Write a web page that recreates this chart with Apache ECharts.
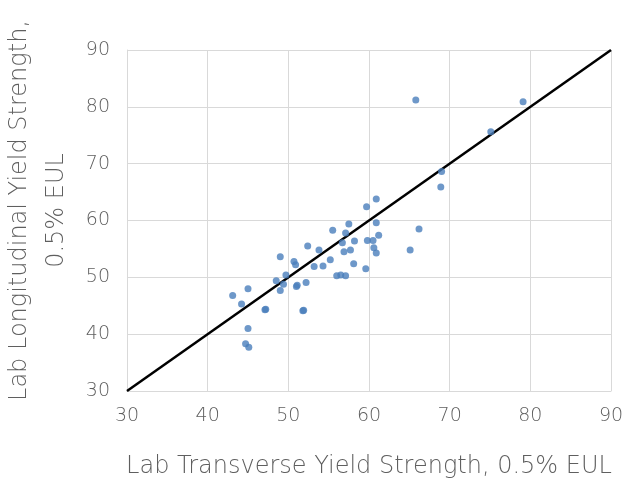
<!DOCTYPE html>
<html>
<head>
<meta charset="utf-8">
<script src="https://cdn.jsdelivr.net/npm/echarts@6/dist/echarts.min.js"></script>
<style>
    html, body { margin: 0; padding: 0; background: #fff; }
    #chart { width: 630px; height: 485px; }
</style>
</head>
<body>
<div id="chart"></div>
<script>
// 横向屈服强度 (x) 与 纵向屈服强度 (y)
var transverse = [
    43.1, 45.0, 44.2, 45.0, 44.7, 45.1, 47.1, 47.2, 48.5, 49.0, 49.0, 49.4, 49.7,
    50.7, 50.9, 51.0, 51.1, 51.8, 51.9, 52.2, 52.4, 53.2, 53.8, 54.3, 55.2, 55.5,
    56.0, 56.5, 57.1, 56.7, 56.9, 57.1, 57.5, 57.7, 58.2, 58.1, 59.6, 59.7, 59.8,
    60.5, 60.6, 60.9, 60.9, 60.9, 61.2, 65.1, 66.2, 65.8, 79.1, 75.1, 69.0, 68.9
];
var longitudinal = [
    46.8, 48.0, 45.3, 41.0, 38.3, 37.7, 44.3, 44.4, 49.4, 53.6, 47.7, 48.8, 50.4,
    52.8, 52.2, 48.4, 48.6, 44.1, 44.2, 49.1, 55.5, 51.9, 54.8, 52.0, 53.1, 58.3,
    50.3, 50.4, 50.3, 56.1, 54.5, 57.8, 59.4, 54.8, 56.4, 52.4, 51.5, 62.4, 56.5,
    56.5, 55.2, 63.8, 59.6, 54.3, 57.4, 54.8, 58.5, 81.2, 80.9, 75.6, 68.6, 65.9
];
// 1:1 参考线
var refLine = [[30, 30], [90, 90]];
var axisMin = 30, axisMax = 90, axisStep = 10;

var points = transverse.map(function (v, i) {
    return [v, longitudinal[i]];
});

var myChart = echarts.init(document.getElementById('chart'));
var fontFamily = '"DejaVu Sans", sans-serif';
var gray = '#5f5f5f';
var myOption = {
    animation: false,
    grid: { left: 127, right: 19, top: 50, bottom: 94, outerBoundsMode: 'none', containLabel: false },
    xAxis: {
        type: 'value',
        min: axisMin, max: axisMax, interval: axisStep,
        axisLine: { show: true, lineStyle: { color: '#d9d9d9' } },
        axisTick: { show: false },
        splitLine: { lineStyle: { color: '#d9d9d9', width: 1 } },
        axisLabel: { color: gray, fontSize: 19, fontFamily: fontFamily, fontWeight: 200, margin: 16 },
        name: 'Lab Transverse Yield Strength, 0.5% EUL',
        nameLocation: 'middle',
        nameGap: 64,
        nameTextStyle: { color: gray, fontSize: 24, fontFamily: fontFamily, fontWeight: 200 }
    },
    yAxis: {
        type: 'value',
        min: axisMin, max: axisMax, interval: axisStep,
        axisLine: { show: true, lineStyle: { color: '#d9d9d9' } },
        axisTick: { show: false },
        splitLine: { lineStyle: { color: '#d9d9d9', width: 1 } },
        axisLabel: { color: gray, fontSize: 19, fontFamily: fontFamily, fontWeight: 200, margin: 17 },
        name: 'Lab Longitudinal Yield Strength,\n0.5% EUL',
        nameLocation: 'middle',
        nameGap: 48,
        nameTextStyle: {
            color: gray, fontSize: 24, fontFamily: fontFamily, fontWeight: 200,
            lineHeight: 37, padding: [0, 0, 0, 20]
        }
    },
    series: [
        {
            type: 'line',
            data: refLine,
            symbol: 'none',
            lineStyle: { color: '#000', width: 2.5 },
            z: 2
        },
        {
            type: 'scatter',
            data: points,
            symbolSize: 7,
            itemStyle: { color: '#4a7ebb' },
            z: 3
        }
    ]
};
myChart.setOption(myOption);
</script>
</body>
</html>
